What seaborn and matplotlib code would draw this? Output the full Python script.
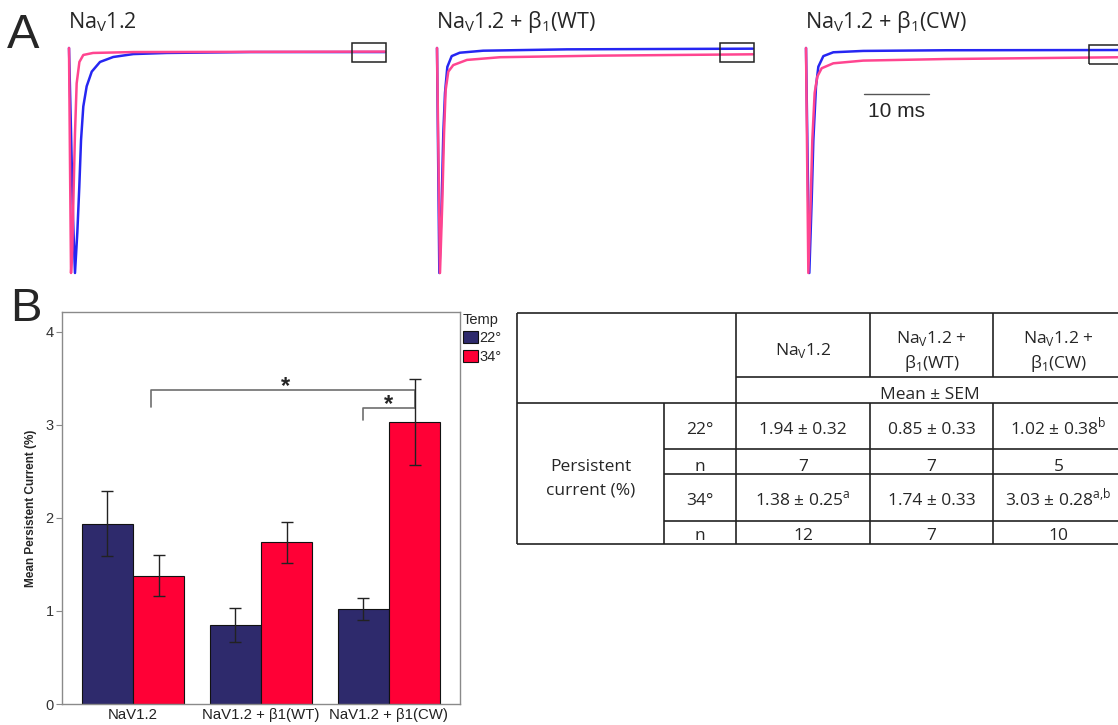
import numpy as np
import pandas as pd
import matplotlib
matplotlib.use("Agg")
import matplotlib.pyplot as plt
import seaborn as sns
from matplotlib.patches import Rectangle, Patch

# ---------------- data ----------------
trace_titles = ["Na$_\\mathregular{V}$1.2",
                "Na$_\\mathregular{V}$1.2 + β$_\\mathregular{1}$(WT)",
                "Na$_\\mathregular{V}$1.2 + β$_\\mathregular{1}$(CW)"]

# normalized current traces (time in ms, current as fraction of peak)
t_p1_22 = [0, 0.3, 0.62, 0.92, 1.28, 1.58, 1.85, 2.2, 2.72, 3.5, 4.77, 6.8, 9.9, 15.0, 28.0, 48.6]
i_p1_22 = [0, -0.36, -0.76, -1.0, -0.82, -0.62, -0.41, -0.26, -0.17, -0.105, -0.062, -0.04, -0.027, -0.022, -0.018, -0.018]
t_p1_34 = [0, 0.15, 0.31, 0.5, 0.67, 0.92, 1.18, 1.6, 2.2, 3.7, 10.0, 48.6]
i_p1_34 = [0, -0.5, -1.0, -0.9, -0.68, -0.38, -0.157, -0.062, -0.031, -0.022, -0.018, -0.016]

t_p2_22 = [0, 0.18, 0.36, 0.72, 0.97, 1.23, 1.59, 2.26, 3.5, 7.1, 20.0, 48.6]
i_p2_22 = [0, -0.5, -1.0, -0.68, -0.38, -0.2, -0.084, -0.036, -0.021, -0.012, -0.006, -0.003]
t_p2_34 = [0, 0.23, 0.46, 0.82, 1.08, 1.33, 1.74, 2.5, 4.6, 9.7, 25.0, 48.6]
i_p2_34 = [0, -0.5, -1.0, -0.68, -0.38, -0.187, -0.105, -0.076, -0.053, -0.041, -0.034, -0.028]

t_p3_22 = [0, 0.25, 0.51, 0.87, 1.13, 1.54, 1.9, 2.67, 4.2, 8.8, 21.6, 48.6]
i_p3_22 = [0, -0.5, -1.0, -0.68, -0.41, -0.17, -0.083, -0.036, -0.019, -0.013, -0.01, -0.009]
t_p3_34 = [0, 0.18, 0.36, 0.72, 0.97, 1.33, 1.74, 2.41, 4.2, 8.8, 21.6, 48.6]
i_p3_34 = [0, -0.5, -1.0, -0.68, -0.41, -0.2, -0.127, -0.09, -0.068, -0.056, -0.049, -0.041]

scale_bar_ms = 10

groups = ["NaV1.2", "NaV1.2 + β1(WT)", "NaV1.2 + β1(CW)"]
temps = ["22°", "34°"]
mean_22 = [1.94, 0.85, 1.02]
mean_34 = [1.38, 1.74, 3.03]
err_22 = [0.35, 0.18, 0.12]
err_34 = [0.22, 0.22, 0.46]
y_ticks = [0, 1, 2, 3, 4]

tbl_headers = [["Na$_\\mathregular{V}$1.2"],
               ["Na$_\\mathregular{V}$1.2 +", "β$_\\mathregular{1}$(WT)"],
               ["Na$_\\mathregular{V}$1.2 +", "β$_\\mathregular{1}$(CW)"]]
tbl_sub = "Mean ± SEM"
tbl_rowgroup = ["Persistent", "current (%)"]
tbl_rows = ["22°", "n", "34°", "n"]
tbl_mean_22 = ["1.94 ± 0.32", "0.85 ± 0.33", "1.02 ± 0.38$^\\mathregular{b}$"]
tbl_n_22 = ["7", "7", "5"]
tbl_mean_34 = ["1.38 ± 0.25$^\\mathregular{a}$", "1.74 ± 0.33", "3.03 ± 0.28$^\\mathregular{a{,}b}$"]
tbl_n_34 = ["12", "7", "10"]

# ---------------- style ----------------
sns.set_style("white")
plt.rcParams["font.family"] = ["Liberation Sans", "DejaVu Sans"]
CAL = ["Open Sans", "DejaVu Sans"]
CALW = "medium"
BLUE_TR = "#2626f2"
PINK_TR = "#ff4590"
NAVY = "#2e2a6c"
RED = "#ff0036"

W, H = 1118, 725
fig = plt.figure(figsize=(W / 100, H / 100), dpi=100)


def px_rect(x0, y0, x1, y1):
    return [x0 / W, 1 - y1 / H, (x1 - x0) / W, (y1 - y0) / H]


# ---------------- panel A: traces ----------------
SX, SY, Y0 = 6.5, 225.0, 48.0   # px per ms, px per unit current, baseline px
TOP, BOT = 30, 285
panel_x0 = [69, 437, 806]
traces = [((t_p1_22, i_p1_22), (t_p1_34, i_p1_34)),
          ((t_p2_22, i_p2_22), (t_p2_34, i_p2_34)),
          ((t_p3_22, i_p3_22), (t_p3_34, i_p3_34))]
trace_axes = []
for k, (x0, ((ta, ia), (tb, ib))) in enumerate(zip(panel_x0, traces)):
    L, R = x0 - 12, x0 + 345
    ax = fig.add_axes(px_rect(L, TOP, R, BOT))
    sns.lineplot(x=ta, y=ia, color=BLUE_TR, lw=1.8, ax=ax, sort=False, estimator=None)
    sns.lineplot(x=tb, y=ib, color=PINK_TR, lw=1.8, ax=ax, sort=False, estimator=None)
    ax.set_xlim((L - x0) / SX, (R - x0) / SX)
    ax.set_ylim(-(BOT - Y0) / SY, (Y0 - TOP) / SY)
    ax.axis("off")
    t_end = max(ta[-1], tb[-1])
    yc = (ia[-1] + ib[-1]) / 2 - 0.004
    ax.add_patch(Rectangle((t_end - 5.1, yc - 0.042), 5.3, 0.084, fill=False,
                           ec="#222222", lw=1.1, zorder=5, clip_on=False))
    trace_axes.append(ax)
    fig.text((x0 - 1) / W, 1 - 28 / H, trace_titles[k], fontsize=15.5,
             family=CAL, fontweight=CALW, ha="left", va="baseline")

# scale bar
ax3 = trace_axes[2]
sb_t0 = 8.9
sb_y = -(94 - Y0) / SY
ax3.plot([sb_t0, sb_t0 + scale_bar_ms], [sb_y, sb_y], color="#555555", lw=1.0)
ax3.text(sb_t0 + scale_bar_ms / 2, -(116.5 - Y0) / SY, f"{scale_bar_ms} ms",
         ha="center", va="baseline", fontsize=15)

# ---------------- panel B: bars ----------------
axb = fig.add_axes(px_rect(62, 312, 460, 704))
df = pd.DataFrame({"group": groups * 2,
                   "temp": [temps[0]] * 3 + [temps[1]] * 3,
                   "value": mean_22 + mean_34})
sns.barplot(data=df, x="group", y="value", hue="temp", order=groups,
            hue_order=temps, palette={temps[0]: NAVY, temps[1]: RED},
            errorbar=None, width=0.8, edgecolor="#111111", linewidth=0.8,
            ax=axb, legend=False, saturation=1)
centers = {}
for cont, errs, tp in zip(axb.containers, [err_22, err_34], temps):
    xs = [b.get_x() + b.get_width() / 2 for b in cont]
    ys = [b.get_height() for b in cont]
    centers[tp] = xs
    axb.errorbar(xs, ys, yerr=errs, fmt="none", ecolor="#222222",
                 elinewidth=1.0, capsize=4.5, capthick=1.0, zorder=4)

axb.set_xlim(-0.555, 2.555)
axb.set_ylim(0, 4.215)
axb.set_yticks(y_ticks)
axb.set_xlabel("")
axb.set_ylabel("Mean Persistent Current (%)", fontsize=8.5, fontweight="bold")
axb.yaxis.set_label_coords(-0.063, 0.5)
for sp in axb.spines.values():
    sp.set_visible(True)
    sp.set_color("#8a8a8a")
    sp.set_linewidth(1.0)
axb.tick_params(axis="y", left=True, length=4, width=0.8, color="#8a8a8a",
                labelsize=10.5, labelcolor="#333333", pad=2)
axb.tick_params(axis="x", bottom=False, length=0, labelsize=10.8,
                labelcolor="#222222", pad=3)

# significance brackets
bc = "#6e6e6e"
x_cw34 = centers[temps[1]][2]
x_cw22 = centers[temps[0]][2]
x_left = centers[temps[1]][0] - 0.06
axb.plot([x_left, x_left, x_cw34, x_cw34], [3.19, 3.38, 3.38, 3.18],
         color=bc, lw=1.2, zorder=3)
axb.plot([x_cw22, x_cw22, x_cw34], [3.05, 3.18, 3.18], color=bc, lw=1.2, zorder=3)
axb.text((x_left + x_cw34) / 2 + 0.02, 3.34, "*", ha="center", va="baseline",
         fontsize=17, fontweight="bold")
axb.text((x_cw22 + x_cw34) / 2 + 0.0, 3.15, "*", ha="center", va="baseline",
         fontsize=17, fontweight="bold")

handles = [Patch(facecolor=NAVY, edgecolor="#111111", lw=0.8, label=temps[0]),
           Patch(facecolor=RED, edgecolor="#111111", lw=0.8, label=temps[1])]
axb.legend(handles=handles, title="Temp", loc="upper left",
           bbox_to_anchor=(463 / W, 1 - 313 / H), bbox_transform=fig.transFigure,
           frameon=False, handlelength=1.0, handleheight=0.9, handletextpad=0.1,
           labelspacing=0.3, borderaxespad=0, borderpad=0, fontsize=10.5,
           title_fontsize=10.5, alignment="left")

# ---------------- overlay: letters and table ----------------
axo = fig.add_axes([0, 0, 1, 1])
axo.set_xlim(0, W)
axo.set_ylim(H, 0)
axo.axis("off")
axo.patch.set_alpha(0)
axo.text(7, 48, "A", fontsize=35, ha="left", va="baseline")
axo.text(10, 321, "B", fontsize=34, ha="left", va="baseline")

lc, lw = "#222222", 1.2
xL, xA, xB, xC, xD, xR = 517, 664, 736, 870, 993, 1124
yT, yH, yS, r1, r2, r3, yBt = 313, 377, 403, 449, 474, 521, 544
axo.hlines([yT, yS, yBt], xL, xR + 10, color=lc, lw=lw)
axo.hlines([yH], xB, xR + 10, color=lc, lw=lw)
axo.hlines([r1, r2, r3], xA, xR + 10, color=lc, lw=lw)
axo.vlines([xL, xB], yT, yBt, color=lc, lw=lw)
axo.vlines([xA], yS, yBt, color=lc, lw=lw)
axo.vlines([xC, xD], yT, yH, color=lc, lw=lw)
axo.vlines([xC, xD], yS, yBt, color=lc, lw=lw)

col_c = [(xB + xC) / 2, (xC + xD) / 2, (xD + xR) / 2]
tfs = 12.5
kw = dict(ha="center", va="baseline", fontsize=tfs, family=CAL, fontweight=CALW)
for cx, hdr in zip(col_c, tbl_headers):
    if len(hdr) == 1:
        axo.text(cx, 355, hdr[0], **kw)
    else:
        axo.text(cx, 343, hdr[0], **kw)
        axo.text(cx, 368, hdr[1], **kw)
axo.text((xB + xR) / 2, 399, tbl_sub, **kw)
axo.text((xL + xA) / 2, 471, tbl_rowgroup[0], **kw)
axo.text((xL + xA) / 2, 494, tbl_rowgroup[1], **kw)
row_base = [434, 470.5, 505, 540]
for rb, lab in zip(row_base, tbl_rows):
    axo.text((xA + xB) / 2, rb, lab, **kw)
for rb, vals in zip(row_base, [tbl_mean_22, tbl_n_22, tbl_mean_34, tbl_n_34]):
    for cx, v in zip(col_c, vals):
        axo.text(cx, rb, v, **kw)

fig.savefig("out.png", dpi=100)
